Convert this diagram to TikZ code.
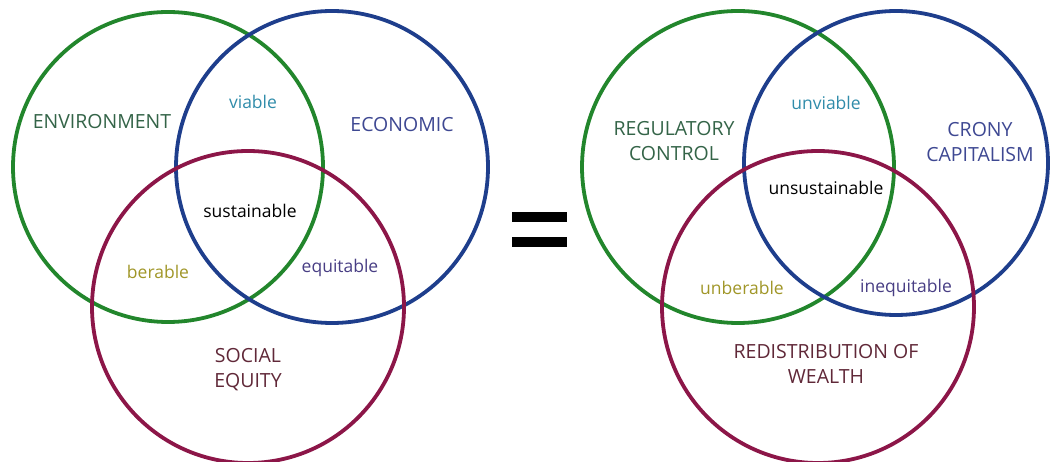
\documentclass[tikz,border=0pt]{standalone}
\usepackage{fontspec}
\setmainfont{Open Sans}
\usepackage{tikz}
\usetikzlibrary{calc}
\definecolor{ringgreen}{RGB}{34,134,44}
\definecolor{ringblue}{RGB}{30,62,140}
\definecolor{ringred}{RGB}{140,22,72}
\definecolor{txtgreen}{RGB}{52,100,72}
\definecolor{txtteal}{RGB}{48,140,170}
\definecolor{txtblue}{RGB}{62,72,146}
\definecolor{txtolive}{RGB}{160,150,40}
\definecolor{txtviolet}{RGB}{72,62,132}
\definecolor{txtmaroon}{RGB}{96,40,56}
\newcommand{\wordsize}{\fontsize{17.5}{22}\selectfont}
\newcommand{\namesize}{\fontsize{19.5}{25}\selectfont}
\tikzset{ring/.style={draw=#1,line width=3.8pt},ring/.default=black}
\tikzset{word/.style={text=#1,inner sep=0pt,align=center,font=\wordsize},word/.default=black}
\tikzset{areaname/.style={text=#1,inner sep=0pt,align=center,font=\namesize},areaname/.default=black}

\begin{document}
\begin{tikzpicture}[x=1pt,y=-1pt]
	\useasboundingbox (0,0) rectangle (1052,462);

	% Linkes Diagramm: die drei Kreise
	\draw [ring=ringgreen] (168,167) circle (155pt);
	\draw [ring=ringblue]  (332,167) circle (156pt);
	\draw [ring=ringred]   (248,307) circle (156pt);

	% Linkes Diagramm: die Texte
	\node [areaname=txtgreen]  (environment) at (102,122) {ENVIRONMENT};
	\node [word=txtteal]       (viable)      at (253,102) {viable};
	\node [areaname=txtblue]   (economic)    at (402,125) {ECONOMIC};
	\node [word]               (sustainable) at (250,211) {sustainable};
	\node [word=txtolive]      (berable)     at (158,272) {berable};
	\node [word=txtviolet]     (equitable)   at (340,268) {equitable};
	\node [areaname=txtmaroon] (social)      at (248,370) {SOCIAL\\EQUITY};

	% Das Gleichheitszeichen
	\fill [black] (512,212) rectangle (567,222);
	\fill [black] (512,237) rectangle (567,247);

	% Rechtes Diagramm: die drei Kreise
	\draw [ring=ringgreen] (738,167) circle (156pt);
	\draw [ring=ringblue]  (896,163) circle (152pt);
	\draw [ring=ringred]   (818,307) circle (156pt);

	% Rechtes Diagramm: die Texte
	\node [areaname=txtgreen]  (regulatory)    at (674,141) {REGULATORY\\CONTROL};
	\node [word=txtteal]       (unviable)      at (826,103) {unviable};
	\node [areaname=txtblue]   (crony)         at (980,142) {CRONY\\CAPITALISM};
	\node [word]               (unsustainable) at (826,188) {unsustainable};
	\node [word=txtolive]      (unberable)     at (742,288) {unberable};
	\node [word=txtviolet]     (inequitable)   at (906,288) {inequitable};
	\node [areaname=txtmaroon] (redistrib)     at (826,364) {REDISTRIBUTION OF\\WEALTH};

\end{tikzpicture}
\end{document}
